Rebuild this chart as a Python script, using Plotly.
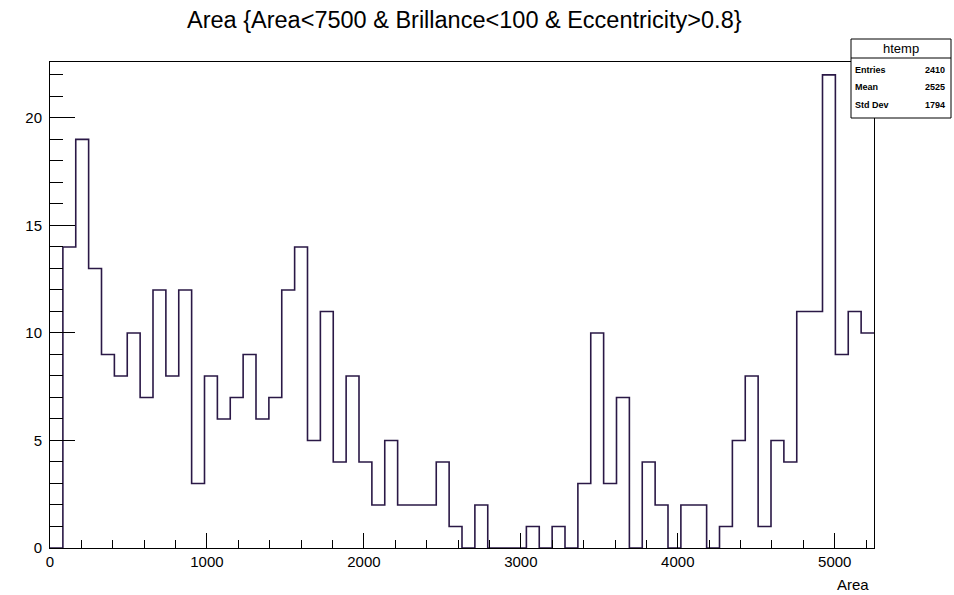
import numpy as np
import plotly.graph_objects as go

# ---- data ----
x_min = 0.0
x_max = 5250.0
counts = [0, 14, 19, 13, 9, 8, 10, 7, 12, 8,
          12, 3, 8, 6, 7, 9, 6, 7, 12, 14,
          5, 11, 4, 8, 4, 2, 5, 2, 2, 2,
          4, 1, 0, 2, 0, 0, 0, 1, 0, 1,
          0, 3, 10, 3, 7, 0, 4, 2, 0, 2,
          2, 0, 1, 5, 8, 1, 5, 4, 11, 11,
          22, 9, 11, 10]
x_tick_vals = [0, 1000, 2000, 3000, 4000, 5000]
y_tick_vals = [0, 5, 10, 15, 20]
title_text = "Area {Area<7500 & Brillance<100 & Eccentricity>0.8}"
x_title = "Area"
stats_name = "htemp"
stats_labels = ["Entries", "Mean", "Std Dev"]
stats_values = ["2410", "2525", "1794"]

# ---- geometry (page pixels; body margin removed by post_script) ----
W, H = 954, 595
L, R, T, B = 50, 874, 62, 548
pw, ph = R - L, B - T

nb = len(counts)
edges = np.linspace(x_min, x_max, nb + 1)
ys = list(counts) + [counts[-1]]

line_color = "#2a1846"
font_fam = "Liberation Sans, Arial, Helvetica, sans-serif"

fig = go.Figure()
fig.add_trace(go.Scatter(x=edges, y=ys, mode="lines", line=dict(shape="hv", color=line_color, width=1.6),
                         hoverinfo="skip", showlegend=False))

def pxx(px):
    return (px - L) / pw

def pxy(py):
    return (B - py) / ph

shapes = []
annotations = []

# stats box
bx0, bx1, by0, by1, byh = 851, 951, 39, 118, 58
shapes.append(dict(type="rect", xref="paper", yref="paper",
                   x0=pxx(bx0), x1=pxx(bx1), y0=pxy(by1), y1=pxy(by0),
                   line=dict(color="black", width=1), fillcolor="white", layer="above"))
shapes.append(dict(type="line", xref="paper", yref="paper",
                   x0=pxx(bx0), x1=pxx(bx1), y0=pxy(byh), y1=pxy(byh),
                   line=dict(color="black", width=1), layer="above"))
annotations.append(dict(text=stats_name, xref="paper", yref="paper",
                        x=pxx((bx0 + bx1) / 2), y=pxy((by0 + byh) / 2),
                        xanchor="center", yanchor="middle", showarrow=False,
                        font=dict(family=font_fam, size=13, color="black")))
row_y = [70, 87, 105]
for lab, val, ry in zip(stats_labels, stats_values, row_y):
    annotations.append(dict(text="<b>" + lab + "</b>", xref="paper", yref="paper",
                            x=pxx(bx0 + 2), y=pxy(ry),
                            xanchor="left", yanchor="middle", showarrow=False,
                            font=dict(family=font_fam, size=9, color="black")))
    annotations.append(dict(text="<b>" + val + "</b>", xref="paper", yref="paper",
                            x=pxx(bx1 - 4), y=pxy(ry),
                            xanchor="right", yanchor="middle", showarrow=False,
                            font=dict(family=font_fam, size=9, color="black")))

# title
annotations.append(dict(text=title_text, xref="paper", yref="paper",
                        x=pxx(464), y=pxy(20),
                        xanchor="center", yanchor="middle", showarrow=False,
                        font=dict(family=font_fam, size=23.5, color="black")))
# x axis title
annotations.append(dict(text=x_title, xref="paper", yref="paper",
                        x=pxx(871), y=pxy(584),
                        xanchor="right", yanchor="middle", showarrow=False,
                        font=dict(family=font_fam, size=15, color="black")))

fig.update_layout(
    width=W, height=H,
    margin=dict(l=L, r=W - R, t=T, b=H - B, pad=0),
    paper_bgcolor="white", plot_bgcolor="white",
    shapes=shapes, annotations=annotations,
    font=dict(family=font_fam, size=15, color="black"),
)
fig.update_xaxes(range=[x_min, x_max], tickvals=x_tick_vals, ticktext=[str(v) for v in x_tick_vals],
                 ticks="inside", ticklen=15, tickcolor="black", tickwidth=1,
                 minor=dict(dtick=200, tick0=0, ticks="inside", ticklen=8, tickcolor="black", tickwidth=1, showgrid=False),
                 showgrid=False, zeroline=False, showline=True, linecolor="black", linewidth=1, mirror=True,
                 tickfont=dict(family=font_fam, size=15, color="black"))
fig.update_yaxes(range=[0, 22.6], tickvals=y_tick_vals, ticktext=[str(v) for v in y_tick_vals],
                 ticks="inside", ticklen=25, tickcolor="black", tickwidth=1,
                 minor=dict(dtick=1, tick0=0, ticks="inside", ticklen=13, tickcolor="black", tickwidth=1, showgrid=False),
                 showgrid=False, zeroline=False, showline=True, linecolor="black", linewidth=1, mirror=True,
                 tickfont=dict(family=font_fam, size=15, color="black"), ticklabelstandoff=4)

fig.write_html("out.html", config={"displayModeBar": False},
               post_script="document.body.style.margin='0px';")
